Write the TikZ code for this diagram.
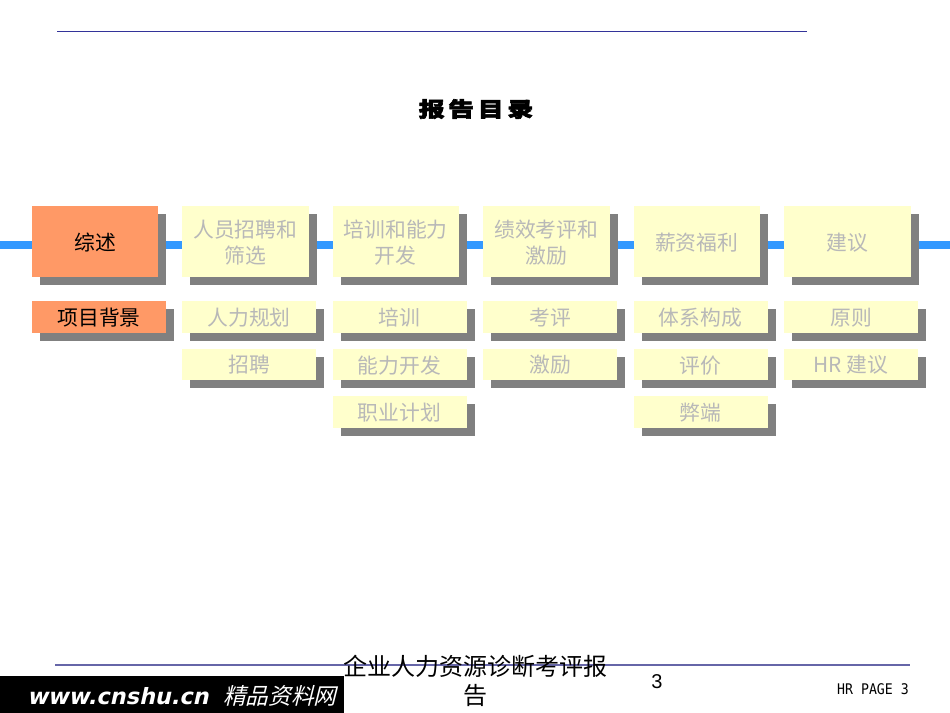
\documentclass[tikz,border=0pt]{standalone}
\usepackage{fontspec}
\usetikzlibrary{backgrounds}
\setmainfont{Noto Sans CJK SC}
\newfontfamily\titlefont[FakeBold=3,FakeStretch=1.25,LetterSpace=18]{Noto Sans CJK SC Black}
\newfontfamily\footfont{Noto Sans CJK SC}
\newfontfamily\webfont[FakeSlant=0.22,BoldFont={DejaVu Sans Bold}]{DejaVu Sans}
\newfontfamily\webcjk[FakeSlant=0.25]{Noto Sans CJK SC}
\newfontfamily\pagefont{Liberation Sans}
\newfontfamily\hrfont[FakeStretch=0.9]{DejaVu Sans Mono}
\definecolor{paleY}{HTML}{FFFFCC}
\definecolor{orangeA}{HTML}{FF9966}
\definecolor{shadowG}{HTML}{808080}
\definecolor{dimT}{HTML}{B8B8B8}
\definecolor{barB}{HTML}{3399FF}
\definecolor{ruleA}{HTML}{333399}
\definecolor{ruleB}{HTML}{6666A8}
\tikzset{
  x=0.75pt,y=-0.75pt,
  plate/.style={inner sep=0pt,outer sep=0pt,align=center,anchor=north west,text depth=0pt},
  big/.style={font=\fontsize{15.6}{19.5}\selectfont},
  shadowbox/.style={fill=shadowG,draw=none,inner sep=0pt,outer sep=0pt,anchor=north west},
  connbar/.style={draw=barB,line width=6pt},
}
% name, x, y, width, height, fill, text colour, text
\newcommand{\bx}[8]{%
  \node[shadowbox,minimum width=#4*0.75pt,minimum height=#5*0.75pt] (#1s) at (#2+8,#3+8) {};
  \node[plate,fill=#6,text=#7,big,minimum width=#4*0.75pt,minimum height=#5*0.75pt] (#1) at (#2,#3) {#8};
}
\begin{document}
\begin{tikzpicture}
\useasboundingbox (0,0) rectangle (950,713);
\coordinate (ruleTa) at (57,31.5); \coordinate (ruleTb) at (807,31.5);
\coordinate (ruleBa) at (55,665); \coordinate (ruleBb) at (910,665);
\coordinate (barL) at (0,245); \coordinate (barR) at (950,245);
\draw[ruleA,line width=1pt] (ruleTa) -- (ruleTb);
\draw[ruleB,line width=1.6pt] (ruleBa) -- (ruleBb);
\node[inner sep=0pt,font=\titlefont\fontsize{15.5}{18}\selectfont] (title) at (476,109) {报告目录};
% main row
\bx{m0}{32}{206}{126}{71}{orangeA}{black}{综述}
\bx{m1}{182}{206}{126.5}{71}{paleY}{dimT}{人员招聘和\\筛选}
\bx{m2}{332.5}{206}{126.5}{71}{paleY}{dimT}{培训和能力\\开发}
\bx{m3}{483}{206}{126.5}{71}{paleY}{dimT}{绩效考评和\\激励}
\bx{m4}{633.5}{206}{126.5}{71}{paleY}{dimT}{薪资福利}
\bx{m5}{784}{206}{126.5}{71}{paleY}{dimT}{建议}
% sub rows
\bx{s0}{32}{301}{134}{31.5}{orangeA}{black}{项目背景}
\bx{s1}{182}{301}{134}{31.5}{paleY}{dimT}{人力规划}
\bx{s2}{182}{348.5}{134}{31.5}{paleY}{dimT}{招聘}
\bx{s3}{332.5}{301}{134}{31.5}{paleY}{dimT}{培训}
\bx{s4}{332.5}{348.5}{134}{31.5}{paleY}{dimT}{能力开发}
\bx{s5}{332.5}{396}{134}{31.5}{paleY}{dimT}{职业计划}
\bx{s6}{483}{301}{134}{31.5}{paleY}{dimT}{考评}
\bx{s7}{483}{348.5}{134}{31.5}{paleY}{dimT}{激励}
\bx{s8}{633.5}{301}{134}{31.5}{paleY}{dimT}{体系构成}
\bx{s9}{633.5}{348.5}{134}{31.5}{paleY}{dimT}{评价}
\bx{s10}{633.5}{396}{134}{31.5}{paleY}{dimT}{弊端}
\bx{s11}{784}{301}{134}{31.5}{paleY}{dimT}{原则}
\bx{s12}{784}{348.5}{134}{31.5}{paleY}{dimT}{HR 建议}
\begin{pgfonlayer}{background}
\fill[white] (0,0) rectangle (950,713);
\draw[connbar] (barL) -- (m0.west |- barL);
\draw[connbar] (m0.east |- barL) -- (m1.west |- barL);
\draw[connbar] (m1.east |- barL) -- (m2.west |- barL);
\draw[connbar] (m2.east |- barL) -- (m3.west |- barL);
\draw[connbar] (m3.east |- barL) -- (m4.west |- barL);
\draw[connbar] (m4.east |- barL) -- (m5.west |- barL);
\draw[connbar] (m5.east |- barL) -- (barR);
\end{pgfonlayer}
% footer
\node[fill=black,inner sep=0pt,outer sep=0pt,anchor=north west,minimum width=344*0.75pt,minimum height=37*0.75pt] (web) at (0,676) {};
\node[anchor=west,inner sep=0pt,text=white,font=\webfont\bfseries\fontsize{16.8}{18}\selectfont] (webt) at (27,696) {www.cnshu.cn};
\node[anchor=west,inner sep=0pt,text=white,font=\webcjk\fontsize{17}{18}\selectfont] (webc) at (223,696) {精品资料网};
\node[inner sep=0pt,align=center,text=black,font=\footfont\fontsize{18}{21.75}\selectfont] (foot) at (475,681) {企业人力资源诊断考评报\\告};
\node[inner sep=0pt,font=\pagefont\fontsize{15}{18}\selectfont] (pnum) at (657,682) {3};
\node[inner sep=0pt,anchor=east,font=\hrfont\fontsize{11}{12}\selectfont] (hrp) at (909,689) {HR PAGE 3};
\end{tikzpicture}
\end{document}
